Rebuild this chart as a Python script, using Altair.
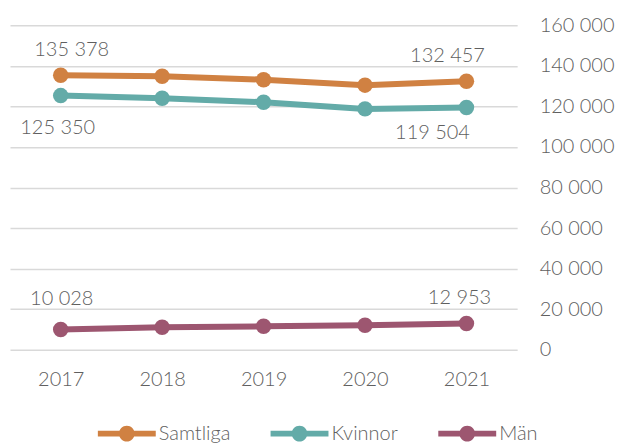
import altair as alt
import pandas as pd

years = ["2017", "2018", "2019", "2020", "2021"]
series = ["Samtliga", "Kvinnor", "Män"]
samtliga = [135378, 134900, 133200, 130500, 132457]
kvinnor = [125350, 124050, 122100, 118800, 119504]
man = [10028, 11080, 11570, 12060, 12953]
colors = ["#D08142", "#63ABA8", "#9D5670"]
y_ticks = [0, 20000, 40000, 60000, 80000, 100000, 120000, 140000, 160000]

rows = []
for name, vals in zip(series, [samtliga, kvinnor, man]):
    for yr, v in zip(years, vals):
        rows.append({"year": yr, "serie": name, "value": v})
df = pd.DataFrame(rows)

FONT = "Lato"
FW = 300
GRAY = "#5f5f5f"

x_enc = alt.X("year:O", sort=years, scale=alt.Scale(paddingOuter=0.5, paddingInner=0),
              axis=alt.Axis(title=None, labelAngle=0, domain=False, ticks=False, grid=False,
                            labelPadding=20, labelFontSize=20, labelColor=GRAY, labelFont=FONT,
                            labelFontWeight=FW))
y_enc = alt.Y("value:Q", scale=alt.Scale(domain=[0, 160000]),
              axis=alt.Axis(title=None, orient="right", values=y_ticks, domain=False, ticks=False,
                            grid=True, gridColor="#d9d9d9", gridWidth=1.5,
                            labelPadding=22, labelFontSize=20, labelColor=GRAY, labelFont=FONT,
                            labelFontWeight=FW,
                            labelExpr="replace(format(datum.value, ','), ',', ' ')"))
legend_path = ("M-1,-0.1L1,-0.1L1,0.1L-1,0.1Z "
               "M-0.27,0A0.27,0.27 0 1,1 0.27,0A0.27,0.27 0 1,1 -0.27,0Z")
color_enc = alt.Color("serie:N", sort=series,
                      scale=alt.Scale(domain=series, range=colors),
                      legend=alt.Legend(title=None, orient="none", direction="horizontal",
                                        legendX=88, legendY=380,
                                        symbolType=legend_path, symbolSize=3364,
                                        symbolStrokeWidth=0, symbolOpacity=1,
                                        labelFontSize=20, labelColor=GRAY, labelFont=FONT,
                                        labelFontWeight=FW,
                                        labelOffset=3, columnPadding=40))

base = alt.Chart(df)
lines = base.mark_line(strokeWidth=6).encode(x=x_enc, y=y_enc, color=color_enc, detail="serie:N")
points = base.mark_circle(size=240, opacity=1).encode(
    x=x_enc, y=y_enc,
    color=alt.Color("serie:N", sort=series, scale=alt.Scale(domain=series, range=colors), legend=None))

def label(serie, year, dx, dy):
    return base.transform_filter(
        (alt.datum.serie == serie) & (alt.datum.year == year)
    ).transform_calculate(
        lab="replace(format(datum.value, ','), ',', ' ')"
    ).mark_text(dx=dx, dy=dy, fontSize=20, font=FONT, fontWeight=FW, color=GRAY).encode(
        x=alt.X("year:O", sort=years), y=alt.Y("value:Q"), text="lab:N")

labels = [
    label("Samtliga", "2017", 11, -25),
    label("Kvinnor", "2017", -3, 32),
    label("Samtliga", "2021", -19, -25),
    label("Kvinnor", "2021", -34, 26),
    label("Män", "2017", 1, -31),
    label("Män", "2021", -7, -26),
]

chart = alt.layer(lines, points, *labels).properties(
    width=508, height=325,
    autosize=alt.AutoSizeParams(type="none"),
    padding={"left": 2, "top": 17, "right": 100, "bottom": 96},
).configure_view(stroke=None)

chart.save("out.html", embed_options={"renderer": "svg", "actions": False})
